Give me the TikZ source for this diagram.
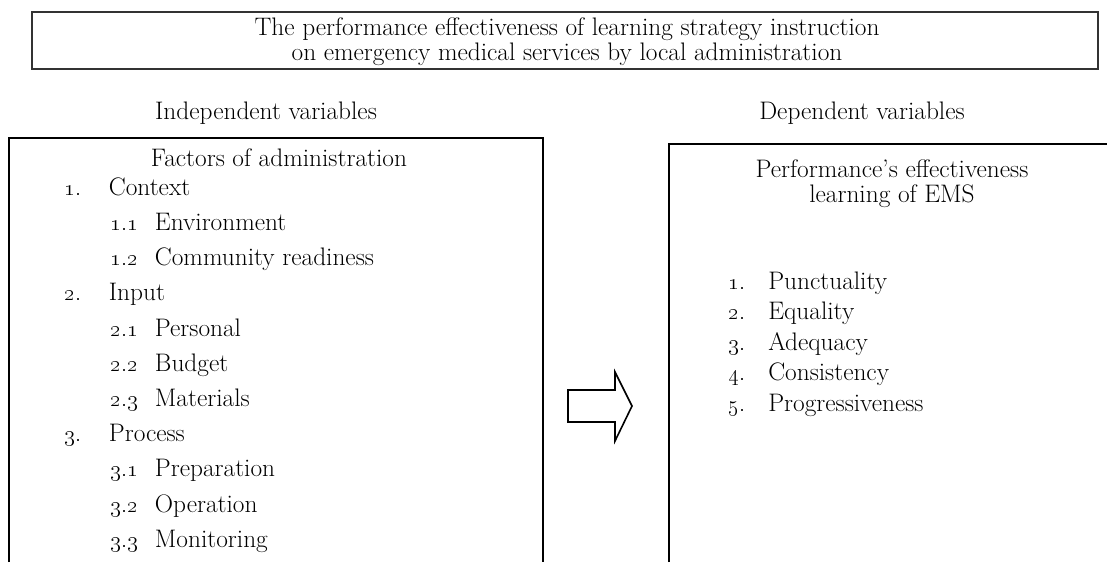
\documentclass[tikz,border=0pt]{standalone}
\usepackage{tikz}
\usetikzlibrary{positioning}
\tikzset{%
  txt/.style={inner sep=0pt, font=\fontsize{19}{18.5}\selectfont}, % all the text
  item/.style={txt, anchor=base west},
  framebox/.style={draw=black!80, line width=0.9pt},
  varbox/.style={draw, line width=1.6pt},
}
\newcommand{\onum}[1]{\oldstylenums{#1}}
\newcommand{\lnum}[1]{\makebox[33.5pt][l]{\onum{#1}}}
\newcommand{\rnum}[1]{\makebox[30pt][l]{\onum{#1}}}

\begin{document}
\begin{tikzpicture}[x=0.75pt, y=-0.75pt]
\useasboundingbox (0,0) rectangle (1107,562);

% title
\node[framebox, minimum width=799.5pt, minimum height=42.75pt] (titlebox) at (565,40.5) {};
\node[txt, align=center] (title) at (567,42)
  {The performance effectiveness of learning strategy instruction\\on emergency medical services by local administration};

\node[txt] (indep) at (266,113) {Independent variables};
\node[txt] (dep) at (862,113) {Dependent variables};

% the two boxes run off the page
\coordinate (lb0) at (9,562);
\coordinate (lb1) at (9,138);
\coordinate (lb2) at (543,138);
\coordinate (lb3) at (543,562);
\draw[varbox] (lb0) -- (lb1) -- (lb2) -- (lb3);
\coordinate (rb0) at (669,562);
\coordinate (rb1) at (669,144);
\coordinate (rb2) at (1107,144);
\draw[varbox] (rb0) -- (rb1) -- (rb2);

% left box
\node[txt] (factors) at (279,158) {Factors of administration};
\node[item] (ctx) at (64,195) {\lnum{1.}Context};
\node[item] (env) at (110,230) {\lnum{1.1}Environment};
\node[item] (com) at (110,265.5) {\lnum{1.2}Community readiness};
\node[item] (inp) at (64,300.5) {\lnum{2.}Input};
\node[item] (per) at (110,336) {\lnum{2.1}Personal};
\node[item] (bud) at (110,371) {\lnum{2.2}Budget};
\node[item] (mat) at (110,406) {\lnum{2.3}Materials};
\node[item] (pro) at (64,441.5) {\lnum{3.}Process};
\node[item] (pre) at (110,476.5) {\lnum{3.1}Preparation};
\node[item] (ope) at (110,512) {\lnum{3.2}Operation};
\node[item] (mon) at (110,547) {\lnum{3.3}Monitoring};

% arrow between the boxes
\coordinate (a0) at (568,390);
\coordinate (a1) at (615,390);
\coordinate (a2) at (615,372);
\coordinate (a3) at (632,406);
\coordinate (a4) at (615,441);
\coordinate (a5) at (615,422);
\coordinate (a6) at (568,422);
\draw[line width=1.2pt, line join=miter] (a0) -- (a1) -- (a2) -- (a3) -- (a4) -- (a5) -- (a6) -- cycle;

% right box
\node[txt, align=center] (perf) at (892,184) {Performance’s effectiveness\\learning of EMS};
\node[item] (pun) at (728,289) {\rnum{1.}Punctuality};
\node[item] (equ) at (728,319.5) {\rnum{2.}Equality};
\node[item] (ade) at (728,350) {\rnum{3.}Adequacy};
\node[item] (con) at (728,380.5) {\rnum{4.}Consistency};
\node[item] (prg) at (728,411) {\rnum{5.}Progressiveness};

\end{tikzpicture}
\end{document}
